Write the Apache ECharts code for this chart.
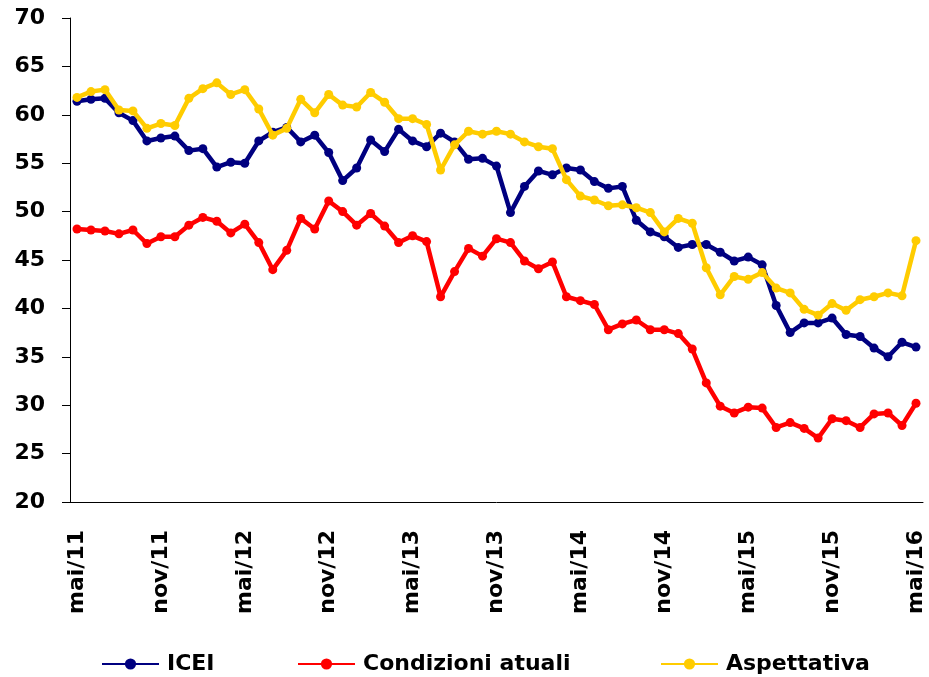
<!DOCTYPE html>
<html><head><meta charset="utf-8">
<script src="https://cdn.jsdelivr.net/npm/echarts@6/dist/echarts.min.js"></script>
<style>html,body{margin:0;padding:0;background:#fff}#c{width:929px;height:677px}</style>
</head><body><div id="c"></div><script>
const categories = [
  'mai/11','jun/11','jul/11','ago/11','set/11','out/11','nov/11','dez/11','jan/12','fev/12','mar/12','abr/12',
  'mai/12','jun/12','jul/12','ago/12','set/12','out/12','nov/12','dez/12','jan/13','fev/13','mar/13','abr/13',
  'mai/13','jun/13','jul/13','ago/13','set/13','out/13','nov/13','dez/13','jan/14','fev/14','mar/14','abr/14',
  'mai/14','jun/14','jul/14','ago/14','set/14','out/14','nov/14','dez/14','jan/15','fev/15','mar/15','abr/15',
  'mai/15','jun/15','jul/15','ago/15','set/15','out/15','nov/15','dez/15','jan/16','fev/16','mar/16','abr/16',
  'mai/16'
];
const icei = [
  61.4,61.6,61.7,60.2,59.4,57.3,57.6,57.8,56.3,56.5,54.6,55.1,
  55.0,57.3,58.2,58.7,57.2,57.9,56.1,53.2,54.5,57.4,56.2,58.5,
  57.3,56.7,58.1,57.2,55.4,55.5,54.7,49.9,52.6,54.2,53.8,54.5,
  54.3,53.1,52.4,52.6,49.1,47.9,47.4,46.3,46.6,46.6,45.8,44.9,
  45.3,44.5,40.3,37.5,38.5,38.5,39.0,37.3,37.1,35.9,35.0,36.5,
  36.0
];
const condizioni = [
  48.2,48.1,48.0,47.7,48.1,46.7,47.4,47.4,48.6,49.4,49.0,47.8,
  48.7,46.8,44.0,46.0,49.3,48.2,51.1,50.0,48.6,49.8,48.5,46.8,
  47.5,46.9,41.2,43.8,46.2,45.4,47.2,46.8,44.9,44.1,44.8,41.2,
  40.8,40.4,37.8,38.4,38.8,37.8,37.8,37.4,35.8,32.3,29.9,29.2,
  29.8,29.7,27.7,28.2,27.6,26.6,28.6,28.4,27.7,29.1,29.2,27.9,
  30.2
];
const aspettativa = [
  61.8,62.4,62.6,60.5,60.4,58.6,59.1,58.9,61.7,62.7,63.3,62.1,
  62.6,60.6,57.9,58.6,61.6,60.2,62.1,61.0,60.8,62.3,61.3,59.6,
  59.6,59.0,54.3,56.9,58.3,58.0,58.3,58.0,57.2,56.7,56.5,53.3,
  51.6,51.2,50.6,50.7,50.4,49.9,47.9,49.3,48.8,44.2,41.4,43.3,
  43.0,43.7,42.1,41.6,39.9,39.3,40.5,39.8,40.9,41.2,41.6,41.3,
  47.0
];
const seriesNames = ['ICEI', 'Condizioni atuali', 'Aspettativa'];
const seriesData = [icei, condizioni, aspettativa];
const colors = ['#000080', '#FF0000', '#FFCC00'];
const legendLeft = [96, 292, 655];

const FONT = "'DejaVu Sans', Verdana, sans-serif";
const chart = echarts.init(document.getElementById('c'), null, {renderer: 'canvas'});
chart.setOption({
  animation: false,
  backgroundColor: '#fff',
  grid: {left: 70, top: 18, right: 6, bottom: 175, containLabel: false},
  legend: seriesNames.map((n, k) => ({
    data: [n], left: legendLeft[k], top: 648,
    itemWidth: 57, itemHeight: 14, itemGap: 0,
    textStyle: {fontFamily: FONT, fontWeight: 'bold', fontSize: 22, color: '#000', padding: [0,0,0,3]}
  })),
  xAxis: {
    type: 'category', data: categories, boundaryGap: true,
    axisLine: {lineStyle: {color: '#000', width: 1}},
    axisTick: {interval: 5, length: 6, lineStyle: {color: '#000'}},
    axisLabel: {interval: 5, rotate: 90, margin: 28, fontFamily: FONT, fontWeight: 'bold', fontSize: 22, color: '#000'},
    splitLine: {show: false}
  },
  yAxis: {
    type: 'value', min: 20, max: 70, interval: 5,
    axisLine: {show: true, lineStyle: {color: '#000', width: 1}},
    axisTick: {show: true, length: 8, lineStyle: {color: '#000'}},
    axisLabel: {margin: 25, fontFamily: FONT, fontWeight: 'bold', fontSize: 22, color: '#000'},
    splitLine: {show: false}
  },
  series: seriesNames.map((n, k) => ({
    name: n, type: 'line', data: seriesData[k],
    color: colors[k],
    symbol: 'circle', symbolSize: 9, showSymbol: true,
    lineStyle: {width: 4.5, color: colors[k]},
    itemStyle: {color: colors[k]},
    z: 2 + k
  }))
});
</script></body></html>
